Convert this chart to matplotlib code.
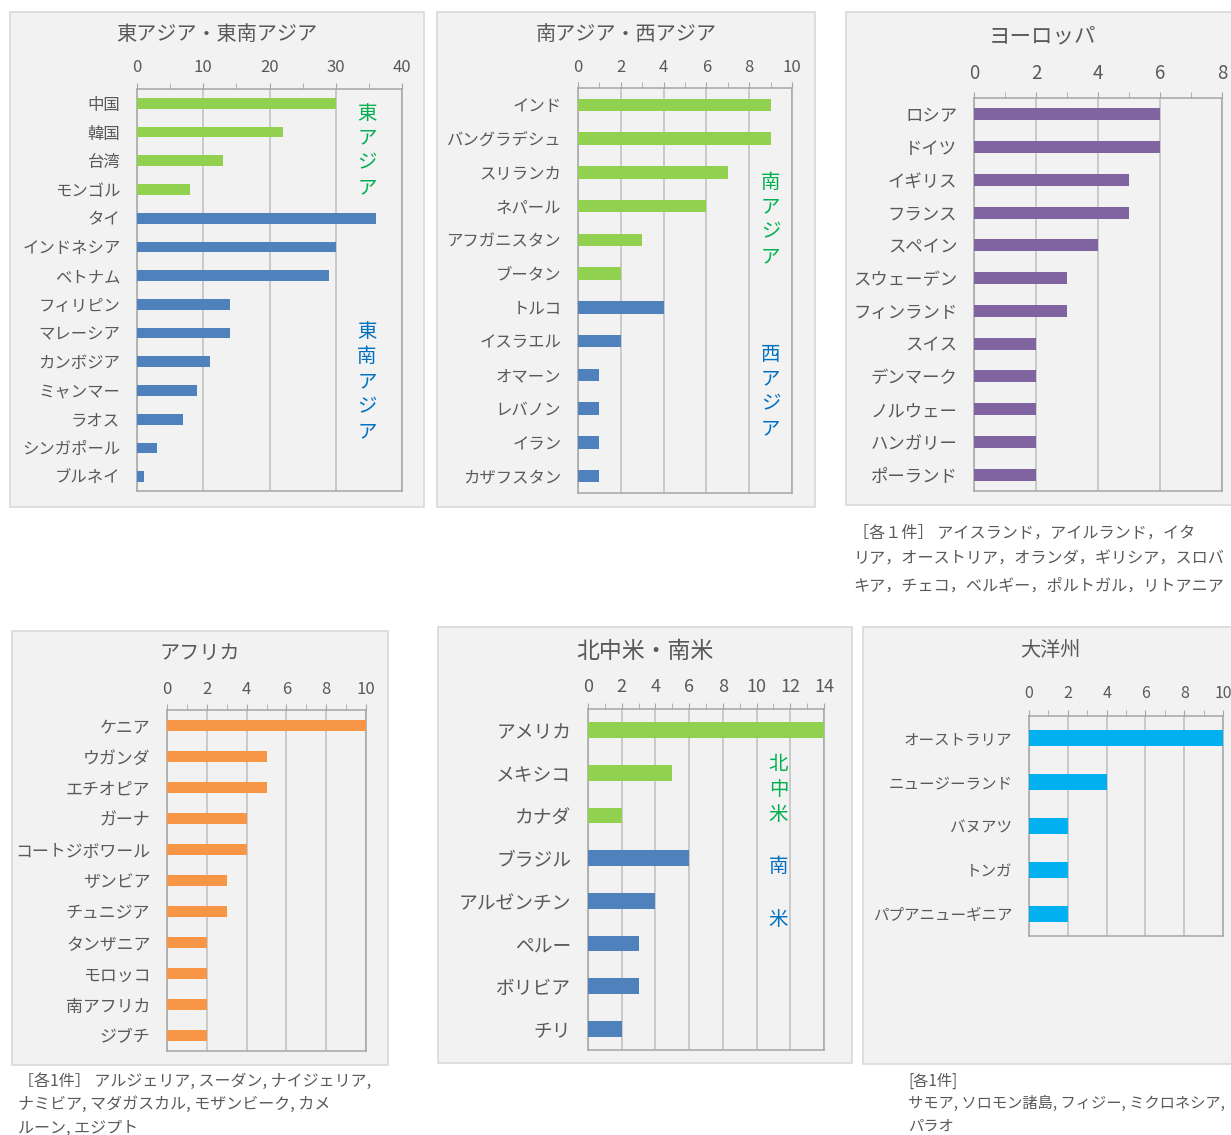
import matplotlib.pyplot as plt
from matplotlib.patches import Rectangle
from matplotlib.ticker import MultipleLocator

plt.rcParams['font.family'] = ['Noto Sans CJK JP', 'DejaVu Sans']

# ---- data ----
east_labels = ['中国', '韓国', '台湾', 'モンゴル', 'タイ', 'インドネシア', 'ベトナム', 'フィリピン',
               'マレーシア', 'カンボジア', 'ミャンマー', 'ラオス', 'シンガポール', 'ブルネイ']
east_values = [30, 22, 13, 8, 36, 30, 29, 14, 14, 11, 9, 7, 3, 1]
east_split = 4  # 東アジア / 東南アジア

south_labels = ['インド', 'バングラデシュ', 'スリランカ', 'ネパール', 'アフガニスタン', 'ブータン',
                'トルコ', 'イスラエル', 'オマーン', 'レバノン', 'イラン', 'カザフスタン']
south_values = [9, 9, 7, 6, 3, 2, 4, 2, 1, 1, 1, 1]
south_split = 6  # 南アジア / 西アジア

europe_labels = ['ロシア', 'ドイツ', 'イギリス', 'フランス', 'スペイン', 'スウェーデン', 'フィンランド',
                 'スイス', 'デンマーク', 'ノルウェー', 'ハンガリー', 'ポーランド']
europe_values = [6, 6, 5, 5, 4, 3, 3, 2, 2, 2, 2, 2]

africa_labels = ['ケニア', 'ウガンダ', 'エチオピア', 'ガーナ', 'コートジボワール', 'ザンビア',
                 'チュニジア', 'タンザニア', 'モロッコ', '南アフリカ', 'ジブチ']
africa_values = [10, 5, 5, 4, 4, 3, 3, 2, 2, 2, 2]

america_labels = ['アメリカ', 'メキシコ', 'カナダ', 'ブラジル', 'アルゼンチン', 'ペルー', 'ボリビア', 'チリ']
america_values = [14, 5, 2, 6, 4, 3, 3, 2]
america_split = 3  # 北中米 / 南米

oceania_labels = ['オーストラリア', 'ニュージーランド', 'バヌアツ', 'トンガ', 'パプアニューギニア']
oceania_values = [10, 4, 2, 2, 2]

europe_note = ['［各１件］ アイスランド，アイルランド，イタ',
               'リア，オーストリア，オランダ，ギリシア，スロバ',
               'キア，チェコ，ベルギー，ポルトガル，リトアニア']
africa_note = ['［各1件］ アルジェリア, スーダン, ナイジェリア,',
               'ナミビア, マダガスカル, モザンビーク, カメ',
               'ルーン, エジプト']
oceania_note = ['[各1件]', 'サモア, ソロモン諸島, フィジー, ミクロネシア,', 'パラオ']

GREEN, BLUE = '#92D050', '#4F81BD'
TXT = '#595959'

W, H = 1231, 1135
fig = plt.figure(figsize=(W / 100, H / 100), dpi=100)


def box(x0, y0, x1, y1):
    fig.patches.append(Rectangle((x0 / W, 1 - y1 / H), (x1 - x0) / W, (y1 - y0) / H,
                                 transform=fig.transFigure, facecolor='#F2F2F2',
                                 edgecolor='#D9D9D9', lw=1.2, zorder=-5))


def panel(ax_px, labels, values, colors, xmax, step, title, title_xy,
          xpad=5, lsize=11.8, nsize=12, tsize=14.5):
    l, t, r, b = ax_px
    ax = fig.add_axes([l / W, 1 - b / H, (r - l) / W, (b - t) / H])
    ax.set_facecolor('#F2F2F2')
    n = len(labels)
    ax.barh(range(n), values, height=0.37, color=colors, zorder=3)
    ax.set_ylim(n - 0.5, -0.5)
    ax.set_xlim(0, xmax)
    ax.set_yticks(range(n))
    ax.set_yticklabels(labels)
    ax.xaxis.tick_top()
    ax.xaxis.set_major_locator(MultipleLocator(step))
    ax.xaxis.set_minor_locator(MultipleLocator(step / 2))
    ax.grid(axis='x', which='major', color='#BFBFBF', lw=1.1, zorder=1)
    for s in ax.spines.values():
        s.set_color('#A6A6A6')
        s.set_linewidth(1.1)
    ax.tick_params(axis='y', length=0, pad=12, labelsize=lsize, labelcolor=TXT)
    ax.tick_params(axis='x', which='both', direction='out', color='#A6A6A6',
                   labelsize=nsize, labelcolor=TXT, pad=xpad, length=4)
    fig.text(title_xy[0] / W, 1 - title_xy[1] / H, title, ha='center', va='center',
             fontsize=tsize, color=TXT)
    return ax


def vlabel(ax, x, y, text, color):
    ax.text(x, y, '\n'.join(text), ha='center', va='center', fontsize=14,
            color=color, linespacing=1.25, zorder=4)


def note(x, y, lines, dy, size=11.5):
    for i, s in enumerate(lines):
        fig.text(x / W, 1 - (y + i * dy) / H, s, ha='left', va='center',
                 fontsize=size, color=TXT)


# 東アジア・東南アジア
box(10, 12, 424, 507)
c = [GREEN] * east_split + [BLUE] * (len(east_values) - east_split)
ax1 = panel((137, 89, 402, 491), east_labels, east_values, c, 40, 10,
            '東アジア・東南アジア', (217, 34))
vlabel(ax1, 34.7, 1.65, '東アジア', '#00B050')
vlabel(ax1, 34.7, 9.7, '東南アジア', '#0070C0')

# 南アジア・西アジア
box(437, 12, 815, 507)
c = [GREEN] * south_split + [BLUE] * (len(south_values) - south_split)
ax2 = panel((578, 88, 792, 493), south_labels, south_values, c, 10, 2,
            '南アジア・西アジア', (626, 34))
vlabel(ax2, 9.0, 3.4, '南アジア', '#00B050')
vlabel(ax2, 9.0, 8.5, '西アジア', '#0070C0')

# ヨーロッパ
box(846, 12, 1240, 505)
panel((974, 98, 1222, 491), europe_labels, europe_values, ['#8064A2'] * len(europe_values),
      8, 2, 'ヨーロッパ', (1042, 36), xpad=6, lsize=12.5, nsize=13.5, tsize=15.5)
note(853, 533, europe_note, 26.5, 11.6)

# アフリカ
box(12, 631, 388, 1065)
panel((167, 710, 366, 1051), africa_labels, africa_values, ['#F79646'] * len(africa_values),
      10, 2, 'アフリカ', (200, 653), lsize=12.2)
note(18, 1081, africa_note, 23.5)

# 北中米・南米
box(438, 627, 852, 1063)
c = [GREEN] * america_split + [BLUE] * (len(america_values) - america_split)
ax5 = panel((588, 709, 824, 1050), america_labels, america_values, c, 14, 2,
            '北中米・南米', (645, 651), lsize=13.5, nsize=13, tsize=16.5)
vlabel(ax5, 11.3, 1.4, '北中米', '#00B050')
ax5.text(11.3, 3.2, '南', ha='center', va='center', fontsize=14, color='#0070C0', zorder=4)
ax5.text(11.3, 4.43, '米', ha='center', va='center', fontsize=14, color='#0070C0', zorder=4)

# 大洋州
box(863, 627, 1240, 1064)
panel((1029, 716, 1223, 936), oceania_labels, oceania_values, ['#00B0F0'] * len(oceania_values),
      10, 2, '大洋州', (1050, 651), xpad=6, lsize=11.2, nsize=11.5)
note(908, 1081, oceania_note, 22.5, 11)

fig.savefig('out.png', dpi=100, facecolor='white')
